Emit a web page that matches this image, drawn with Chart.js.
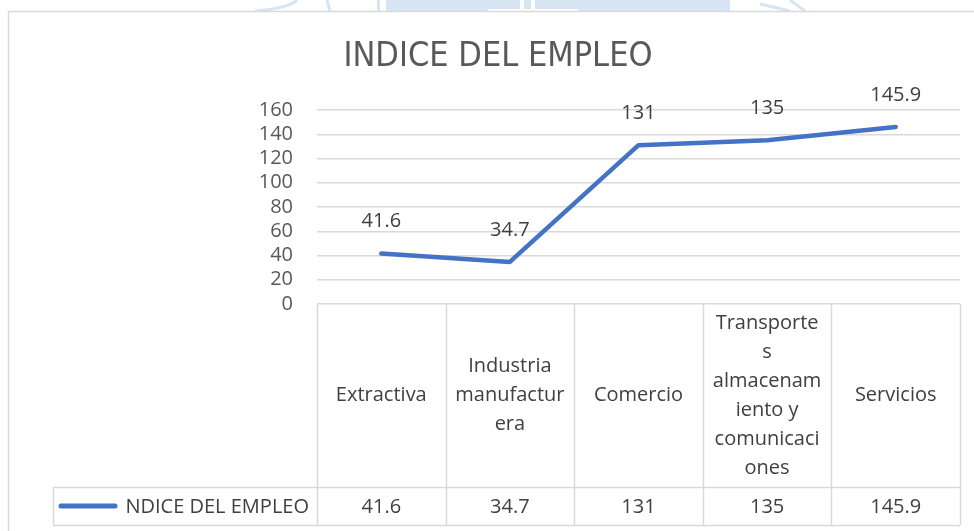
<!DOCTYPE html>
<html>
<head>
<meta charset="utf-8">
<script src="https://cdn.jsdelivr.net/npm/chart.js@4/dist/chart.umd.min.js"></script>
<style>
    body { margin: 0; background: #ffffff; }
    #graph { display: block; }
</style>
</head>
<body>
<canvas id="graph" width="974" height="531"></canvas>
<script>
// Donnees du graphique
const categories = [
    ["Extractiva"],
    ["Industria", "manufactur", "era"],
    ["Comercio"],
    ["Transporte", "s", "almacenam", "iento y", "comunicaci", "ones"],
    ["Servicios"]
];
const seriesName = "INDICE DEL EMPLEO";
const legendText = "NDICE DEL EMPLEO";
const values = [41.6, 34.7, 131, 135, 145.9];
const yMin = 0;
const yMax = 160;
const yStep = 20;

const FONT = "'Open Sans', Lato, sans-serif";
const TITLE_FONT = "'Liberation Sans Narrow', 'DejaVu Sans Condensed', sans-serif";
const GRID = "#d9d9d9";
const TEXT = "#404040";
const BLUE = "#4472C4";

// Fond blanc, bordure et filigrane en haut
const backgroundPlugin = {
    id: "background",
    beforeDraw(chart) {
        const ctx = chart.ctx;
        ctx.save();
        ctx.fillStyle = "#ffffff";
        ctx.fillRect(0, 0, chart.width, chart.height);

        // filigrane (logo coupe en haut)
        ctx.fillStyle = "#d6e4f4";
        ctx.fillRect(377, 0, 353, 11);
        ctx.fillStyle = "#ffffff";
        ctx.fillRect(380, 0, 6, 11);
        ctx.fillRect(520, 0, 4, 11);
        ctx.fillRect(531, 0, 4, 11);
        ctx.fillRect(488, 9, 90, 2);
        ctx.strokeStyle = "#d6e4f4";
        ctx.lineWidth = 3;
        ctx.beginPath();
        ctx.moveTo(255, 11);
        ctx.quadraticCurveTo(290, 8, 297, 0);
        ctx.moveTo(327, 0);
        ctx.lineTo(330, 11);
        ctx.moveTo(760, 4);
        ctx.lineTo(790, 11);
        ctx.moveTo(790, 0);
        ctx.lineTo(805, 11);
        ctx.stroke();

        // bordure du graphique
        ctx.fillStyle = "#ffffff";
        ctx.fillRect(8, 11, chart.width - 8, chart.height - 11);
        ctx.strokeStyle = GRID;
        ctx.lineWidth = 1.5;
        ctx.beginPath();
        ctx.moveTo(8.5, chart.height);
        ctx.lineTo(8.5, 11.5);
        ctx.lineTo(chart.width, 11.5);
        ctx.stroke();

        // titre
        ctx.fillStyle = "#595959";
        ctx.font = "34px " + TITLE_FONT;
        ctx.textAlign = "center";
        ctx.textBaseline = "middle";
        ctx.fillText(seriesName, 498, 57);
        ctx.restore();
    }
};

// Etiquettes des valeurs et tableau de donnees sous le graphique
const tablePlugin = {
    id: "dataTable",
    afterDatasetsDraw(chart) {
        const ctx = chart.ctx;
        const xScale = chart.scales.x;
        const area = chart.chartArea;
        const meta = chart.getDatasetMeta(0);
        const n = categories.length;
        const colW = (area.right - area.left) / n;
        const top = area.bottom;
        const rowTop = 487;
        const bottom = 525;
        const legendLeft = 53;

        ctx.save();
        ctx.font = "20px " + FONT;
        ctx.fillStyle = TEXT;
        ctx.textAlign = "center";
        ctx.textBaseline = "middle";

        // valeurs au-dessus des points
        meta.data.forEach((pt, i) => {
            ctx.fillText(String(values[i]), pt.x, pt.y - 32);
        });

        // lignes du tableau
        ctx.strokeStyle = GRID;
        ctx.lineWidth = 1.5;
        ctx.beginPath();
        for (let i = 0; i <= n; i++) {
            const x = Math.round(area.left + i * colW) + 0.5;
            ctx.moveTo(x, top);
            ctx.lineTo(x, bottom);
        }
        ctx.moveTo(legendLeft + 0.5, rowTop);
        ctx.lineTo(legendLeft + 0.5, bottom);
        ctx.moveTo(legendLeft, rowTop + 0.5);
        ctx.lineTo(area.right, rowTop + 0.5);
        ctx.moveTo(legendLeft, bottom + 0.5);
        ctx.lineTo(area.right, bottom + 0.5);
        ctx.stroke();

        // noms des categories
        const lineH = 29;
        const midY = (top + rowTop) / 2;
        categories.forEach((lines, i) => {
            const cx = xScale.getPixelForValue(i);
            const y0 = midY - (lines.length - 1) * lineH / 2;
            lines.forEach((txt, j) => ctx.fillText(txt, cx, y0 + j * lineH));
            ctx.fillText(String(values[i]), cx, (rowTop + bottom) / 2 + 1);
        });

        // legende dans la premiere cellule
        const legY = (rowTop + bottom) / 2;
        ctx.save();
        ctx.beginPath();
        ctx.rect(118, rowTop, area.left - 118, bottom - rowTop);
        ctx.clip();
        ctx.textAlign = "right";
        ctx.fillText(legendText, area.left - 8, legY + 1);
        ctx.restore();
        ctx.strokeStyle = BLUE;
        ctx.lineWidth = 5;
        ctx.lineCap = "round";
        ctx.beginPath();
        ctx.moveTo(61, legY);
        ctx.lineTo(115, legY);
        ctx.stroke();
        ctx.restore();
    }
};

window.onload = function () {
    new Chart(document.getElementById("graph"), {
        type: "line",
        data: {
            labels: categories,
            datasets: [{
                label: seriesName,
                data: values,
                borderColor: BLUE,
                borderWidth: 4.5,
                borderCapStyle: "round",
                borderJoinStyle: "round",
                pointRadius: 0,
                tension: 0,
                fill: false
            }]
        },
        options: {
            responsive: false,
            animation: false,
            layout: { padding: { left: 20, right: 14, top: 110, bottom: 227 } },
            plugins: {
                legend: { display: false },
                title: { display: false },
                tooltip: { enabled: false }
            },
            scales: {
                x: {
                    display: false,
                    offset: true
                },
                y: {
                    min: yMin,
                    max: yMax,
                    ticks: {
                        stepSize: yStep,
                        autoSkip: false,
                        padding: 24,
                        color: "#595959",
                        font: { family: FONT, size: 20 }
                    },
                    grid: { color: GRID, lineWidth: 1.5, drawTicks: false },
                    border: { display: false },
                    afterFit(scale) { scale.width = 297; }
                }
            }
        },
        plugins: [backgroundPlugin, tablePlugin]
    });
};
</script>
</body>
</html>
